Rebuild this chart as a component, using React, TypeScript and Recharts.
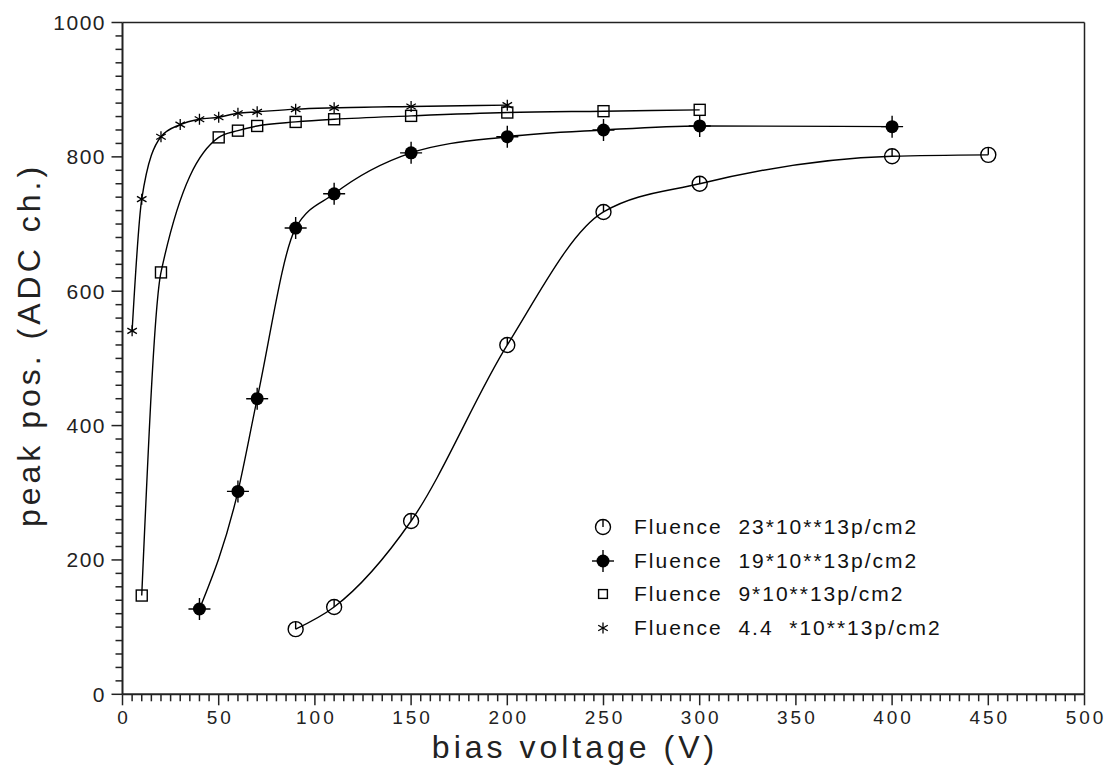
import React from 'react';
import { LineChart, Line, XAxis, YAxis, ReferenceLine, Legend } from 'recharts';

// bias voltage (V) / peak position (ADC ch.) per fluence
const f23Volts = [90, 110, 150, 200, 250, 300, 400, 450];
const f23Peak = [97, 130, 258, 520, 718, 760, 801, 803];
const f19Volts = [40, 60, 70, 90, 110, 150, 200, 250, 300, 400];
const f19Peak = [127, 302, 440, 694, 745, 806, 830, 840, 846, 845];
const f9Volts = [10, 20, 50, 60, 70, 90, 110, 150, 200, 250, 300];
const f9Peak = [147, 628, 829, 839, 846, 852, 856, 861, 866, 868, 870];
const f44Volts = [5, 10, 20, 30, 40, 50, 60, 70, 90, 110, 150, 200];
const f44Peak = [541, 737, 830, 848, 856, 859, 865, 867, 871, 873, 875, 877];

const legendLabels = [
  'Fluence  23*10**13p/cm2',
  'Fluence  19*10**13p/cm2',
  'Fluence  9*10**13p/cm2',
  'Fluence  4.4  *10**13p/cm2',
];

const xMajor = [0, 50, 100, 150, 200, 250, 300, 350, 400, 450, 500];
const yMajor = [0, 200, 400, 600, 800, 1000];
const xMinorStep = 5;
const yMinorStep = 20;

const xTicks = Array.from({ length: 500 / xMinorStep + 1 }, (_, i) => i * xMinorStep);
const yTicks = Array.from({ length: 1000 / yMinorStep + 1 }, (_, i) => i * yMinorStep);

const zip = (xs: number[], ys: number[]) => xs.map((v, i) => ({ volts: v, peak: ys[i] }));
const f23Data = zip(f23Volts, f23Peak);
const f19Data = zip(f19Volts, f19Peak);
const f9Data = zip(f9Volts, f9Peak);
const f44Data = zip(f44Volts, f44Peak);

const INK = '#000';
const AXIS = '#222';
const FONT = '"Liberation Sans", Arial, sans-serif';

type MarkProps = { cx: number; cy: number; scale?: number };

const OpenCircle = ({ cx, cy }: MarkProps) => (
  <g>
    <circle cx={cx} cy={cy} r={7.5} fill="none" stroke={INK} strokeWidth={1.4} />
    <line x1={cx} x2={cx} y1={cy - 7.5} y2={cy} stroke={INK} strokeWidth={1.4} />
  </g>
);

const FilledCircle = ({ cx, cy }: MarkProps) => (
  <g>
    <line x1={cx - 11} x2={cx + 11} y1={cy} y2={cy} stroke={INK} strokeWidth={1.4} />
    <line x1={cx} x2={cx} y1={cy - 11} y2={cy + 11} stroke={INK} strokeWidth={1.4} />
    <circle cx={cx} cy={cy} r={6.5} fill={INK} />
  </g>
);

const OpenSquare = ({ cx, cy, scale = 1 }: MarkProps) => {
  const h = 5.5 * scale;
  return <rect x={cx - h} y={cy - h} width={2 * h} height={2 * h} fill="none" stroke={INK} strokeWidth={1.4} />;
};

const Star = ({ cx, cy }: MarkProps) => {
  const r = 5.5;
  return (
    <g stroke={INK} strokeWidth={1.3}>
      {[90, 30, 150].map((a) => {
        const dx = r * Math.cos((a * Math.PI) / 180);
        const dy = r * Math.sin((a * Math.PI) / 180);
        return <line key={a} x1={cx - dx} y1={cy - dy} x2={cx + dx} y2={cy + dy} />;
      })}
    </g>
  );
};

const XTick = (props: any) => {
  const { x, y, payload } = props;
  const major = xMajor.includes(payload.value);
  return (
    <g>
      <line x1={x} x2={x} y1={y} y2={y + (major ? 11 : 7)} stroke={AXIS} strokeWidth={1.5} />
      {major && (
        <text x={x + 1.5} y={y + 29.5} textAnchor="middle" fontFamily={FONT} fontSize={19} letterSpacing={3} fill={AXIS}>
          {payload.value}
        </text>
      )}
    </g>
  );
};

const YTick = (props: any) => {
  const { x, y, payload } = props;
  const major = yMajor.includes(payload.value);
  return (
    <g>
      <line x1={x} x2={x - (major ? 11 : 7)} y1={y} y2={y} stroke={AXIS} strokeWidth={1.5} />
      {major && (
        <text x={x - 16.5} y={y + 7.5} textAnchor="end" fontFamily={FONT} fontSize={21} letterSpacing={1.5} fill={AXIS}>
          {payload.value}
        </text>
      )}
    </g>
  );
};

const legendMarks = [OpenCircle, FilledCircle, OpenSquare, Star];

const renderLegend = () => (
  <div style={{ fontFamily: FONT, fontSize: 21, letterSpacing: 2, color: '#111' }}>
    {legendLabels.map((label, i) => {
      const Mark = legendMarks[i];
      return (
        <div key={label} style={{ display: 'flex', alignItems: 'center', height: 33.8 }}>
          <svg width={30} height={30} style={{ marginRight: 16 }}>
            <Mark cx={15} cy={15} scale={0.8} />
          </svg>
          <span style={{ whiteSpace: 'pre' }}>{label}</span>
        </div>
      );
    })}
  </div>
);

const App = () => {
  const series = [
    { id: 'f23', data: f23Data, Mark: OpenCircle },
    { id: 'f19', data: f19Data, Mark: FilledCircle },
    { id: 'f9', data: f9Data, Mark: OpenSquare },
    { id: 'f44', data: f44Data, Mark: Star },
  ];

  return (
    <div style={{ position: 'absolute', left: 0, top: 0, background: '#fff' }}>
      <LineChart width={1107} height={767} margin={{ top: 22.5, right: 22.5, left: 0, bottom: 0 }}>
        <XAxis
          type="number"
          dataKey="volts"
          domain={[0, 500]}
          ticks={xTicks}
          interval={0}
          tickLine={false}
          tickSize={0}
          tickMargin={0}
          tick={XTick}
          height={72.7}
          axisLine={{ stroke: AXIS, strokeWidth: 2 }}
          allowDataOverflow
          label={{
            content: () => (
              <text x={575} y={758} textAnchor="middle" fontFamily={FONT} fontSize={32} letterSpacing={4} fill={AXIS}>
                bias voltage (V)
              </text>
            ),
          }}
        />
        <YAxis
          type="number"
          dataKey="peak"
          domain={[0, 1000]}
          ticks={yTicks}
          interval={0}
          tickLine={false}
          tickSize={0}
          tickMargin={0}
          tick={YTick}
          width={122.5}
          axisLine={{ stroke: AXIS, strokeWidth: 2 }}
          allowDataOverflow
          label={{
            content: () => (
              <text
                x={40}
                y={345}
                transform="rotate(-90, 40, 345)"
                textAnchor="middle"
                fontFamily={FONT}
                fontSize={32}
                letterSpacing={4}
                fill={AXIS}
              >
                peak pos. (ADC ch.)
              </text>
            ),
          }}
        />
        <ReferenceLine y={1000} stroke={AXIS} strokeWidth={1.5} />
        <ReferenceLine x={500} stroke={AXIS} strokeWidth={1.5} />
        {series.map(({ id, data, Mark }) => (
          <Line
            key={id}
            data={data}
            dataKey="peak"
            type="monotone"
            stroke={INK}
            strokeWidth={1.4}
            activeDot={false}
            legendType="none"
            isAnimationActive={false}
            dot={(p: any) => <Mark key={`${id}-${p.index}`} cx={p.cx} cy={p.cy} />}
          />
        ))}
        <Legend
          layout="horizontal"
          verticalAlign="middle"
          align="center"
          content={renderLegend}
          wrapperStyle={{ left: 588, top: 510, width: 380 }}
        />
      </LineChart>
    </div>
  );
};

export default App;
